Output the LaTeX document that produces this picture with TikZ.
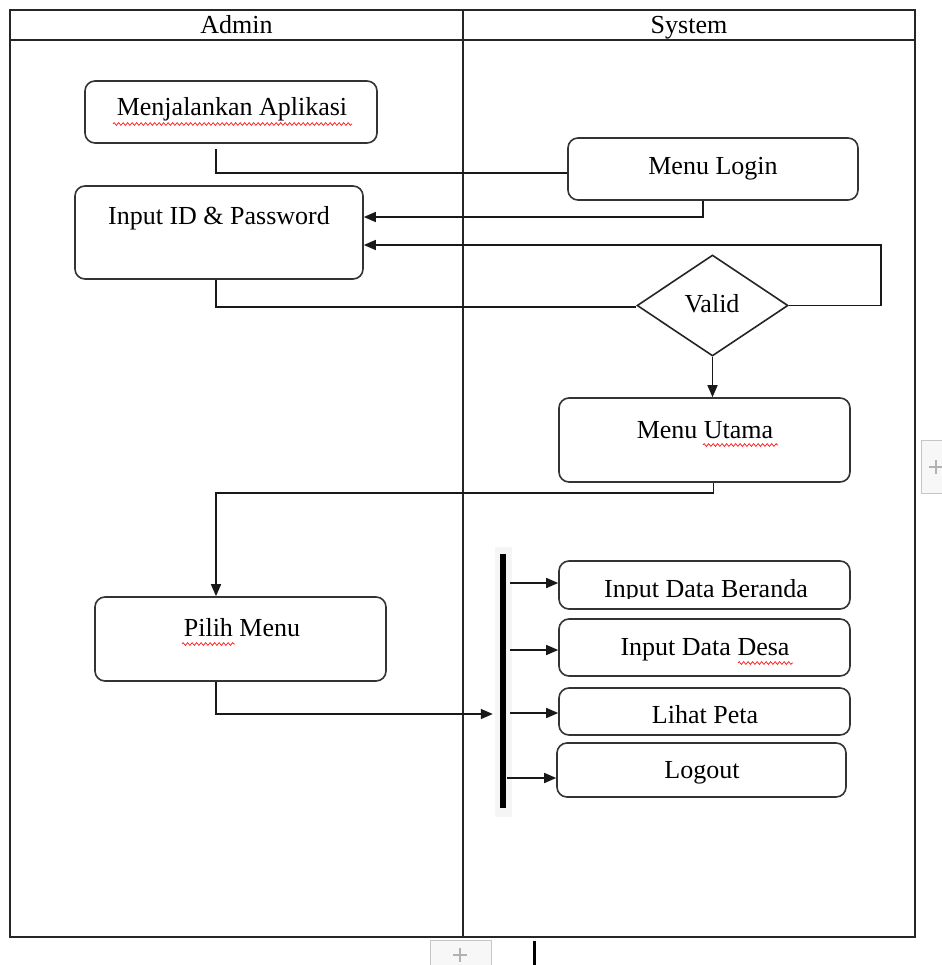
\documentclass[tikz,border=0pt]{standalone}
\usepackage{fontspec}
\setmainfont{Liberation Serif}
\usetikzlibrary{shapes.geometric,arrows.meta,decorations.pathmorphing,calc}
\begin{document}
\begin{tikzpicture}[x=1pt,y=-1pt,
  box/.style={draw=black!80, line width=1.6pt, rounded corners=10pt, inner sep=0pt, fill=white},
  lbl/.style={inner sep=0pt, anchor=base, font=\fontsize{26}{30}\selectfont},
  conn/.style={line width=1.5pt, draw=black!90},
  arr/.style={conn, -{Triangle[length=12pt,width=10pt]}},
  wavy/.style={draw=red!90, line width=0.7pt, decorate, decoration={zigzag, amplitude=1.4pt, segment length=4.5pt}},
  lane/.style={line width=1.6pt, draw=black!85},
  ui/.style={draw=gray!45, line width=1pt, fill=gray!6}
]
\useasboundingbox (0,0) rectangle (941,965);
\fill[white] (0,0) rectangle (941,965);

% swimlanes
\draw[lane] (10,10) rectangle (915,937);
\draw[lane] (10,40) -- (915,40);
\draw[lane] (463,10) -- (463,937);
\node[lbl] (hadmin) at (236.5,34) {Admin};
\node[lbl] (hsys) at (689,34) {System};

% nodes
\node[box, minimum width=292pt, minimum height=62pt] (app) at (231,112) {};
\node[lbl] (tapp) at (232,116) {Menjalankan Aplikasi};
\node[box, minimum width=290pt, minimum height=62pt] (login) at (713,169) {};
\node[lbl] (tlogin) at (713,175) {Menu Login};
\node[box, minimum width=288pt, minimum height=93pt] (pw) at (219,232.5) {};
\node[lbl] (tpw) at (219,225) {Input ID \& Password};
\node[draw=black!85, line width=1.6pt, shape=diamond, inner sep=0pt, minimum width=151pt, minimum height=101pt, fill=white] (valid) at (712.5,305.5) {};
\node[lbl] (tvalid) at (712,312) {Valid};
\node[box, minimum width=291pt, minimum height=84pt] (utama) at (704.5,440) {};
\node[lbl] (tutama) at (705,438) {Menu Utama};
\node[box, minimum width=291pt, minimum height=84pt] (pilih) at (240.5,639) {};
\node[lbl] (tpilih) at (242,636) {Pilih Menu};

\fill[gray!8] (495,547) rectangle (512,817);
\node[fill=black, inner sep=0pt, minimum width=6pt, minimum height=254pt] (bar) at (503,681) {};

\node[box, minimum width=291pt, minimum height=48pt] (b1) at (704.5,585) {};
\begin{scope}
\clip (550,550) rectangle (860,598);
\node[lbl] (tb1) at (706,597) {Input Data Beranda};
\end{scope}
\node[box, minimum width=291pt, minimum height=57pt] (b2) at (704.5,647.5) {};
\node[lbl] (tb2) at (705,655) {Input Data Desa};
\node[box, minimum width=291pt, minimum height=47pt] (b3) at (704.5,711.5) {};
\node[lbl] (tb3) at (705,723) {Lihat Peta};
\node[box, minimum width=289pt, minimum height=54pt] (b4) at (701.5,770) {};
\node[lbl] (tb4) at (702,778) {Logout};

% spell-check underlines
\draw[wavy] (113,124) -- (352,124);
\draw[wavy] (703,445) -- (778,445);
\draw[wavy] (182,644) -- (235,644);
\draw[wavy] (738,663) -- (793,663);

% connectors
\coordinate (colA) at (216,0);
\draw[conn, shorten <=5pt] (app.south -| colA) |- ([yshift=-4pt]login.west);
\draw[arr] ([xshift=-10pt]login.south) |- ([yshift=15.5pt]pw.east);
\draw[arr] (valid.east) -- ++(92,0) |- ([yshift=-12.5pt]pw.east);
\draw[conn] (pw.south -| colA) |- ([yshift=-1.5pt]valid.west);
\draw[arr] (valid.south) -- (valid.south |- utama.north);
\draw[arr] ([xshift=9pt]utama.south) -- ++(0,10) -| (pilih.north -| colA);
\draw[arr, shorten >=7pt] (pilih.south -| colA) |- ([yshift=-33pt]bar.west);
\draw[arr, shorten <=4pt] (bar.east |- 0,583) -- (b1.west |- 0,583);
\draw[arr, shorten <=4pt] (bar.east |- 0,650) -- (b2.west |- 0,650);
\draw[arr, shorten <=4pt] (bar.east |- 0,713) -- (b3.west |- 0,713);
\draw[arr, shorten <=1pt] (bar.east |- 0,778) -- (b4.west |- 0,778);

% editor artifacts
\draw[ui] (430,940) rectangle (491,972);
\draw[gray!60, line width=1.2pt] (453,955) -- (467,955) (460,948) -- (460,962);
\draw[ui] (921,440) rectangle (945,493);
\draw[gray!60, line width=1.2pt] (929,467) -- (945,467) (936,460) -- (936,474);
\fill[black] (533,941) rectangle (536,965);
\end{tikzpicture}
\end{document}
